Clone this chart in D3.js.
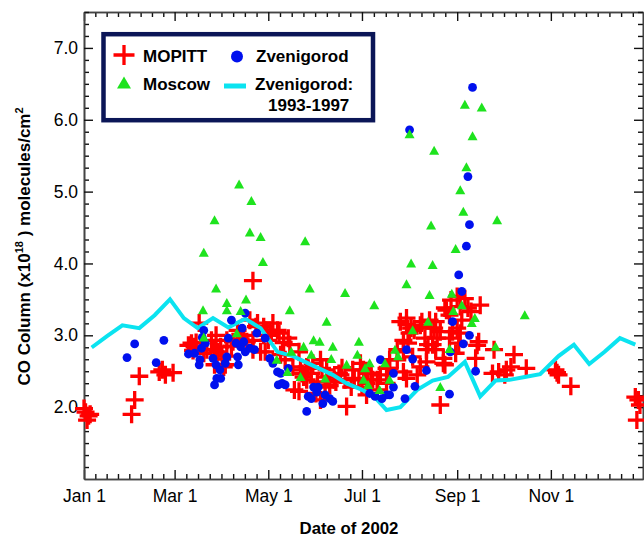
<!DOCTYPE html>
<html><head><meta charset="utf-8">
<script src="https://cdn.jsdelivr.net/npm/d3@7"></script>
<style>body{margin:0;background:#fff}svg{display:block}</style>
</head><body>
<svg id="c" width="644" height="537"></svg>
<script>
const xTickDays = [0, 59, 120, 181, 243, 304];
const xTickLabels = ["Jan 1", "Mar 1", "May 1", "Jul 1", "Sep 1", "Nov 1"];
const yTickValues = [2, 3, 4, 5, 6, 7];
const yTickLabels = ["2.0", "3.0", "4.0", "5.0", "6.0", "7.0"];

// [day of 2002, CO column x1e18]
const mopitt = [
[0,1.98],[1,1.93],[2,1.82],[3,1.88],[4,1.90],
[31,1.90],[33,2.10],[36,2.43],
[49,2.49],[51,2.52],[53,2.45],[58,2.48],
[68,2.86],[70,2.89],[71,2.79],[72,2.84],[73,2.90],[75,3.17],[78,2.75],[80,2.80],
[83,2.93],[85,2.59],[85,2.80],[86,3.00],[87,2.77],[89,2.84],[90,2.67],[91,2.56],[92,2.59],[93,2.71],[93,2.93],
[96,2.85],[97,2.91],[100,3.07],[102,2.95],[104,3.00],[106,2.91],[108,3.21],[110,3.76],[110,2.93],[110,2.80],
[112,3.12],[113,3.17],[115,2.77],[117,3.12],[117,3.00],[118,2.77],[119,3.07],[120,2.93],[121,3.07],[122,3.00],
[123,3.17],[126,3.07],[127,3.03],[128,2.73],[130,2.90],[131,2.66],[133,2.96],[134,2.87],
[136,2.56],[137,2.24],[140,2.77],[140,2.22],[141,2.52],[142,2.47],[143,2.42],[145,2.56],[145,2.38],[146,2.54],
[148,2.47],[149,2.61],[151,2.19],[152,2.35],[154,2.66],[154,2.10],[155,2.54],[157,2.28],[158,2.42],[158,2.52],
[160,2.30],[163,2.38],[164,2.35],[166,2.47],[167,2.45],[168,2.55],[170,2.38],[171,2.01],[174,2.28],[175,2.52],
[176,2.40],[179,2.38],[180,2.61],[181,2.28],[182,2.52],
[184,2.17],[184,2.33],[185,2.47],[187,2.47],[188,2.38],[191,2.24],[191,2.38],[193,2.45],[197,2.33],[197,2.54],
[199,2.54],[199,2.66],[204,2.66],[204,2.80],[206,3.19],[208,2.77],[208,2.93],[208,2.49],[210,3.15],[210,2.40],
[210,3.24],[211,2.89],[212,3.03],[213,3.10],
[214,2.70],[215,3.07],[217,2.45],[219,2.56],[219,3.14],[220,3.19],[222,2.96],[223,2.63],[223,2.80],[224,2.87],
[225,3.21],[226,3.10],[227,2.87],[228,3.10],[229,2.80],[229,3.19],[230,2.96],[232,2.03],[232,3.05],[234,2.61],
[234,2.68],[235,2.59],[235,3.38],[236,3.35],[238,3.28],[238,2.96],[239,3.49],[240,3.05],[242,2.75],[243,3.10],
[243,3.54],[244,2.89],[245,3.40],[245,3.03],[246,3.21],[248,3.51],[250,3.38],[252,3.33],[255,2.68],[256,2.86],
[257,2.91],[258,3.42],
[266,2.47],[267,2.80],[270,2.49],[274,2.45],[275,2.52],[278,2.56],[280,2.73],[288,2.54],
[307,2.52],[308,2.48],[309,2.45],[317,2.29],
[359,2.14],[361,2.10],[362,2.03],[360,1.82]
];

const zvenigorod = [
[28,2.69],[33,2.88],[47,2.62],[52,2.93],
[68,2.74],[72,2.75],[75,2.59],[75.5,2.66],[76.5,2.82],[77,2.97],[78,3.07],[79,2.89],
[84,2.68],[85,2.31],[86,2.59],[86.5,2.40],[88.5,2.52],[89,2.40],[92,2.61],[93,2.70],[94,2.96],[96,3.21],
[99,2.89],[100,2.70],[100.5,2.59],[102,2.84],[103,3.10],[104,2.91],[105,2.77],[105,3.31],[108,2.82],[111,2.80],
[112.5,3.03],[118,2.96],[121,2.68],[123,2.61],[126,2.49],[126.5,2.31],[128,2.47],[129,2.33],[131,2.31],[133,2.54],
[145,1.94],[146,2.15],[148,2.12],[149.5,2.28],[151.5,2.21],[152.5,2.28],[155.5,2.05],[157,2.17],[160,2.12],[162,2.08],
[186,2.19],[189.5,2.15],[193,2.66],[194,2.12],[197,2.17],[199,2.17],[201.5,2.28],[201.5,2.47],[209,2.12],[210,2.80],
[212,5.86],[214,2.67],[215.5,2.29],[223,2.51],
[238,2.18],[238.5,2.77],[240,3.19],[244,3.84],[246,3.61],[247,2.88],[249,4.24],[250,5.21],[251,4.54],[251,3.00],
[253,6.45],[255,2.50]
];

const moscow = [
[77.5,3.35],[78,4.15],[78,2.97],[85,4.60],[86,3.65],[93,3.45],[93,3.35],[99.5,3.03],[101,5.10],[102,3.34],
[105.5,3.50],[108,4.43],[109,4.87],[115,4.37],[116.5,4.02],[125.5,2.66],
[132.5,2.49],[134,3.35],[135,2.77],[141,2.42],[143,2.84],[144,4.31],[147,3.65],[148,2.73],[149.5,2.93],[153.5,2.91],
[157,2.40],[158,3.19],[161,2.67],[162,2.84],[170,3.59],[171,2.59],[178,2.73],[179,2.91],
[182,2.38],[183,2.54],[185,2.31],[186,2.61],[189,3.42],[192.5,2.24],[196,2.61],[199,2.38],[202.5,2.80],[204.5,2.71],
[210,3.71],[212,5.80],[213,4.00],[214,3.07],
[224,3.19],[225,3.56],[226,4.53],[227,3.98],[228,5.57],[232,2.28],[238,2.81],[239.5,3.58],[240.5,3.34],[242,4.20],
[245,5.02],[246,3.42],[247,4.72],[248,6.21],[249,5.34],[252.5,3.17],[253,5.77],[254.5,3.24],[259,6.17],[268,2.84],
[269,4.60],[287,3.28]
];

const zvenigorodClim = [
[5,2.83],[15,2.99],[25,3.14],[36,3.10],[46,3.28],[56,3.50],[65,3.24],[74,3.10],[84,3.24],[94,3.11],
[105,3.23],[115,3.10],[126,2.77],[136,2.71],[145,2.62],[154,2.53],[162,2.45],[171,2.33],[180,2.25],[188,2.17],
[197,1.96],[206,2.00],[217,2.24],[227,2.37],[237,2.42],[248,2.63],[258,2.15],[268,2.37],[277,2.38],[287,2.42],
[297,2.46],[309,2.71],[319,2.87],[329,2.60],[339,2.77],[349,2.96],[359,2.87]
];

const RED = "#ff0000", BLUE = "#0010ee", GREEN = "#1ee31e", CYAN = "#0be3f0", NAVY = "#0b1657";
const FONT = "'Liberation Sans', Arial, Helvetica, sans-serif";

const svg = d3.select("#c").style("font-family", FONT);
const L = 84, R = 643, T = 12, B = 479;
const x = d3.scaleLinear().domain([0, 364]).range([L, R]);
const y = d3.scaleLinear().domain([1, 7.5]).range([B, T]);

// minor ticks
const xMinor = [];
for (let i = 0; i < xTickDays.length; i++) {
  const a = xTickDays[i];
  const b = i + 1 < xTickDays.length ? xTickDays[i + 1] : 365;
  const step = i + 1 < xTickDays.length ? (b - a) / 8 : (xTickDays[i] - xTickDays[i - 1]) / 8;
  for (let k = 1; k < 8; k++) { const d = a + k * step; if (d < 364) xMinor.push(d); }
}
const yMinor = [];
for (let k = 0; k <= 39; k++) { const v = 1 + k / 6; if (v % 1 > 0.01 && v % 1 < 0.99) yMinor.push(v); }

function styleAxis(g) {
  g.selectAll(".domain").attr("stroke", "#444").attr("stroke-width", 1.6);
  g.selectAll(".tick line").attr("stroke", "#111").attr("stroke-width", 1.4);
  g.selectAll(".tick text").attr("fill", "#000").style("font-size", "17.5px").style("font-family", FONT);
}

// bottom
svg.append("g").attr("transform", `translate(0,${B})`)
  .call(d3.axisBottom(x).tickValues(xMinor).tickSize(-5).tickSizeOuter(0).tickFormat(""))
  .call(styleAxis);
svg.append("g").attr("transform", `translate(0,${B})`)
  .call(d3.axisBottom(x).tickValues(xTickDays).tickSize(-9).tickSizeOuter(0).tickPadding(10.5)
    .tickFormat((d, i) => xTickLabels[i]))
  .call(styleAxis);
// top
svg.append("g").attr("transform", `translate(0,${T})`)
  .call(d3.axisTop(x).tickValues(xMinor).tickSize(-5).tickSizeOuter(0).tickFormat(""))
  .call(styleAxis);
svg.append("g").attr("transform", `translate(0,${T})`)
  .call(d3.axisTop(x).tickValues(xTickDays).tickSize(-9).tickSizeOuter(0).tickFormat(""))
  .call(styleAxis);
// left
svg.append("g").attr("transform", `translate(${L},0)`)
  .call(d3.axisLeft(y).tickValues(yMinor).tickSize(-5).tickSizeOuter(0).tickFormat(""))
  .call(styleAxis);
svg.append("g").attr("transform", `translate(${L},0)`)
  .call(d3.axisLeft(y).tickValues(yTickValues).tickSize(-9).tickSizeOuter(0).tickPadding(6)
    .tickFormat((d, i) => yTickLabels[i]))
  .call(styleAxis);
// right
svg.append("g").attr("transform", `translate(${R},0)`)
  .call(d3.axisRight(y).tickValues(yMinor).tickSize(-5).tickSizeOuter(0).tickFormat(""))
  .call(styleAxis);
svg.append("g").attr("transform", `translate(${R},0)`)
  .call(d3.axisRight(y).tickValues(yTickValues).tickSize(-9).tickSizeOuter(0).tickFormat(""))
  .call(styleAxis);

// axis titles
svg.append("text").attr("x", 349).attr("y", 534).attr("text-anchor", "middle")
  .style("font-size", "16.8px").style("font-weight", "bold").text("Date of 2002");
const yt = svg.append("text").attr("transform", "translate(29.5,246.5) rotate(-90)")
  .attr("text-anchor", "middle").style("font-size", "17px").style("font-weight", "bold");
yt.append("tspan").text("CO Column (x10");
yt.append("tspan").attr("dy", -7).style("font-size", "11px").text("18");
yt.append("tspan").attr("dy", 7).text("\u00a0) molecules/cm");
yt.append("tspan").attr("dy", -7).style("font-size", "11px").text("2");

const plot = svg.append("g");
const crossPath = "M-9,0H9M0,-9V9";
plot.selectAll("path.mop").data(mopitt).join("path").attr("class", "mop")
  .attr("d", crossPath).attr("transform", d => `translate(${x(d[0])},${y(d[1])})`)
  .attr("stroke", RED).attr("stroke-width", 3.3).attr("fill", "none");

plot.append("path").datum(zvenigorodClim)
  .attr("d", d3.line().x(d => x(d[0])).y(d => y(d[1])))
  .attr("fill", "none").attr("stroke", CYAN).attr("stroke-width", 4).attr("stroke-linejoin", "miter");

plot.selectAll("circle.zv").data(zvenigorod).join("circle").attr("class", "zv")
  .attr("cx", d => x(d[0])).attr("cy", d => y(d[1])).attr("r", 4.4).attr("fill", BLUE);

plot.selectAll("path.mos").data(moscow).join("path").attr("class", "mos")
  .attr("d", "M0,-5L5,4L-5,4Z").attr("transform", d => `translate(${x(d[0])},${y(d[1])})`)
  .attr("fill", GREEN);

// legend
const lg = svg.append("g");
lg.append("rect").attr("x", 103.5).attr("y", 34.2).attr("width", 269.5).attr("height", 86)
  .attr("fill", "#fff").attr("stroke", NAVY).attr("stroke-width", 4.5);
lg.append("path").attr("d", "M-10.5,0H10.5M0,-10V10").attr("transform", "translate(124,55)")
  .attr("stroke", RED).attr("stroke-width", 3.3).attr("fill", "none");
lg.append("circle").attr("cx", 237).attr("cy", 56.5).attr("r", 6).attr("fill", BLUE);
lg.append("path").attr("d", "M0,-6.5L7,5.5L-7,5.5Z").attr("transform", "translate(124,83)").attr("fill", GREEN);
lg.append("line").attr("x1", 224).attr("x2", 246).attr("y1", 86).attr("y2", 86)
  .attr("stroke", CYAN).attr("stroke-width", 5);
const lt = (tx, ty, s) => lg.append("text").attr("x", tx).attr("y", ty)
  .style("font-size", "17px").style("font-weight", "bold").text(s);
lt(143, 62, "MOPITT");
lt(256, 62, "Zvenigorod");
lt(143, 89.5, "Moscow");
lt(255, 89.5, "Zvenigorod:");
lt(268, 110.5, "1993-1997");
</script>
</body></html>
